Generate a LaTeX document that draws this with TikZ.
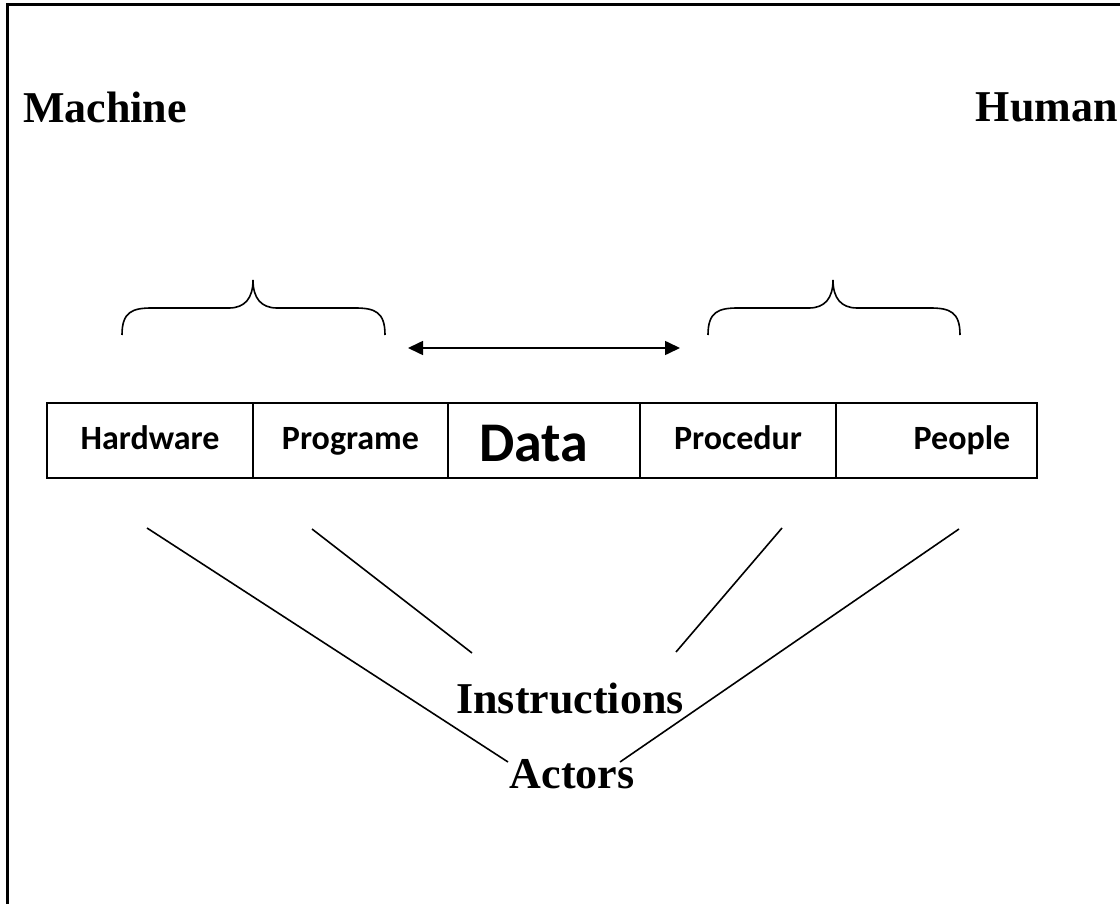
\documentclass[tikz,border=0pt]{standalone}
\usepackage{fontspec}
\setmainfont{Liberation Serif}
\newfontfamily\cellfont{Carlito}
\usetikzlibrary{calc, positioning, arrows.meta}

\begin{document}
\begin{tikzpicture}[x=1pt, y=-1pt,
    cell/.style={draw, line width=1.6pt, minimum height=75pt, inner sep=0pt, text height=26pt, text depth=8pt, font=\cellfont\bfseries\fontsize{34}{40}\selectfont},
    side/.style={font=\bfseries\fontsize{44}{52}\selectfont, inner sep=0pt, anchor=base west},
    tie/.style={line width=1.6pt}]

    \useasboundingbox (0,0) rectangle (1120,904);

    % frame
    \draw[line width=3pt] (7,904) -- (7,5) -- (1120,5);

    % titles
    \node[side] (machine) at (23,123) {Machine};
    \node[side, anchor=base east] (human) at (1118,122) {Human};

    % braces
    \foreach \l/\m/\r in {122/253/385, 708/833/960}
        \draw[tie] (\l,335) .. controls (\l,312) and (\l+10,308) .. (\l+30,308)
            -- (\m-24,308) .. controls (\m-8,308) and (\m,298) .. (\m,280)
            .. controls (\m,298) and (\m+8,308) .. (\m+24,308)
            -- (\r-30,308) .. controls (\r-10,308) and (\r,312) .. (\r,335);

    % double arrow
    \coordinate (al) at (408,348);
    \coordinate (ar) at (680,348);
    \draw[tie, {Triangle[length=15pt,width=14pt]}-{Triangle[length=15pt,width=14pt]}] (al) -- (ar);

    % cells
    \node[cell, minimum width=206pt] (hw) at (150,440.5) {Hardware};
    \node[cell, minimum width=195pt] (prog) at (350.5,440.5) {Programe};
    \node[cell, minimum width=192pt] (data) at (544,440.5) {};
    \node[cell, minimum width=196pt] (proc) at (738,440.5) {Procedur};
    \node[cell, minimum width=201pt] (people) at (936.5,440.5) {};
    \node[font=\cellfont\bfseries\fontsize{56}{62}\selectfont, inner sep=0pt, anchor=base] (datatext) at (534,461) {Data};
    \node[font=\cellfont\bfseries\fontsize{34}{40}\selectfont, inner sep=0pt, anchor=base] (peopletext) at (962,449.5) {People};

    % bottom labels
    \node[side, anchor=base] (instr) at (570,713) {Instructions};
    \node[side, anchor=base] (actors) at (572,788) {Actors};

    % ties
    \coordinate (hwfoot) at (147,528);
    \coordinate (progfoot) at (312,529);
    \coordinate (procfoot) at (782,528);
    \coordinate (peoplefoot) at (959,529);
    \coordinate (instrl) at (472,653);
    \coordinate (instrr) at (676,652);
    \coordinate (actorsl) at (508,762);
    \coordinate (actorsr) at (620,762);
    \draw[tie] (hwfoot) -- (actorsl);
    \draw[tie] (progfoot) -- (instrl);
    \draw[tie] (procfoot) -- (instrr);
    \draw[tie] (peoplefoot) -- (actorsr);

\end{tikzpicture}
\end{document}
